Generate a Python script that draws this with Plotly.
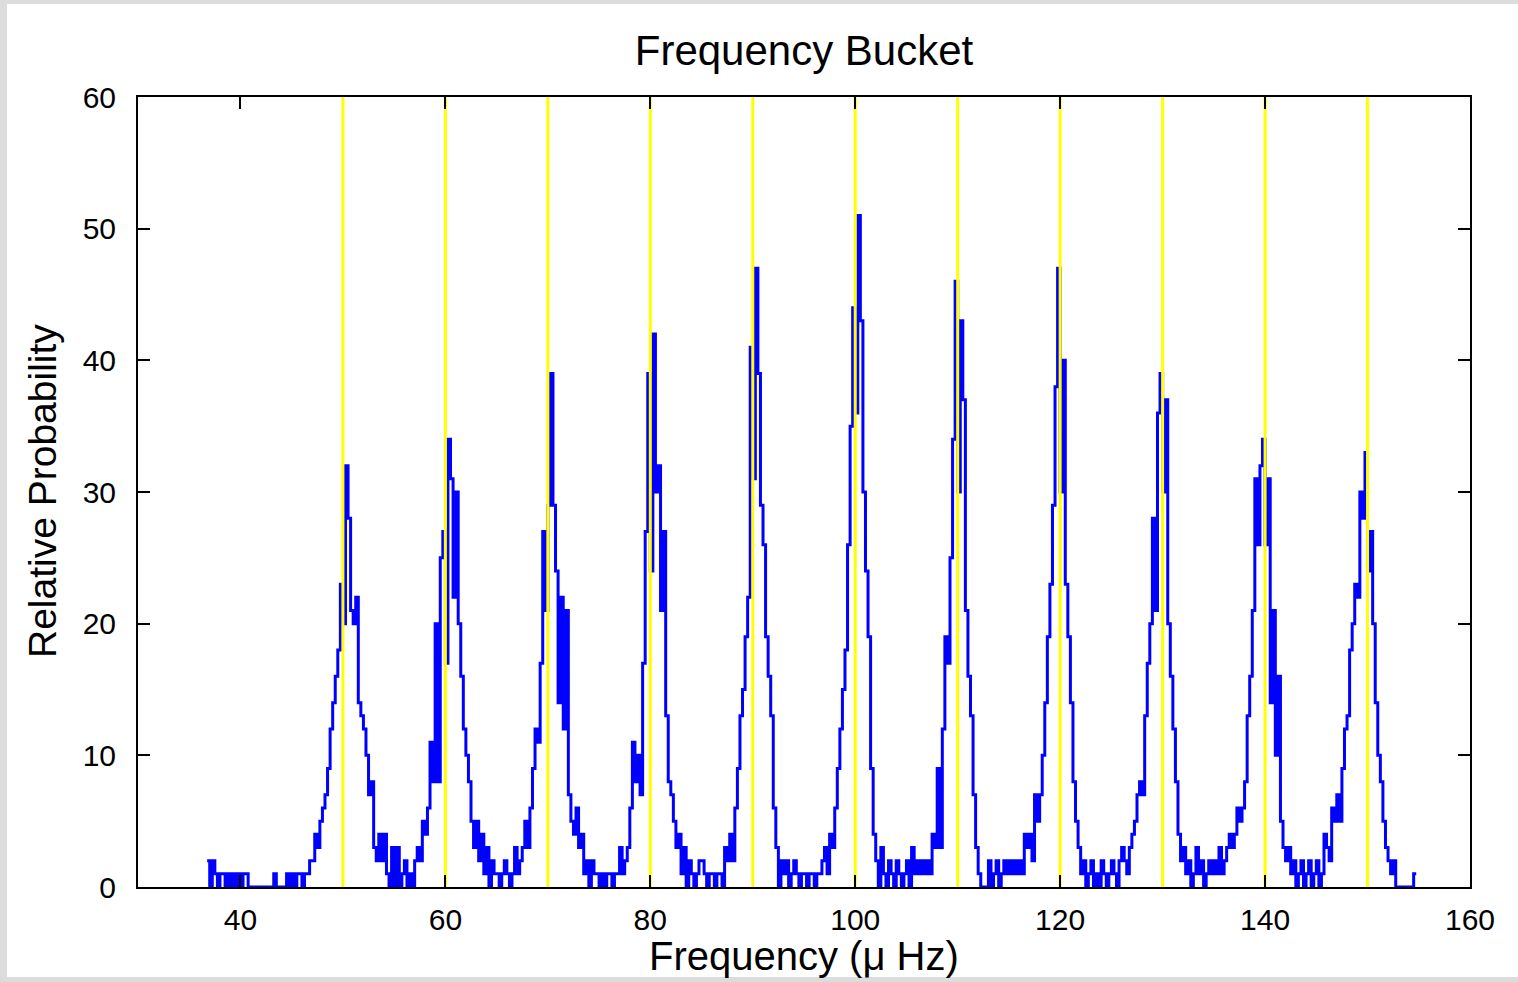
import plotly.graph_objects as go

# ---------------- data ----------------
bin_width = 0.25  # micro-Hz per histogram bin

# start frequency of each block of bins
seg_start = [36.75, 45, 55, 65, 75, 85, 95, 105, 115, 125, 135, 145]

counts_40 = [2, 0, 2, 1, 0, 1, 1, 0, 1, 0, 1, 0, 1, 0, 1, 1, 0, 0, 0, 0,
             0, 0, 0, 0, 0, 0, 1, 0, 0, 0, 0, 1, 0]
counts_50 = [1, 0, 1, 1, 0, 1, 1, 2, 2, 4, 3, 5, 6, 7, 9, 12, 14, 16, 18, 23,
             20, 32, 28, 21, 20, 22, 14, 13, 12, 10, 7, 8, 3, 2, 4, 2, 4, 1, 0, 3]
counts_60 = [0, 3, 0, 1, 2, 0, 1, 0, 2, 3, 2, 5, 4, 6, 11, 8, 20, 8, 25, 27,
             17, 34, 31, 22, 30, 20, 16, 12, 10, 8, 5, 3, 5, 2, 4, 1, 3, 0, 2, 1]
counts_70 = [1, 0, 1, 2, 1, 0, 1, 3, 1, 2, 3, 5, 3, 6, 9, 12, 11, 17, 27, 21,
             29, 39, 29, 24, 14, 22, 12, 21, 7, 5, 4, 6, 3, 4, 1, 2, 0, 2, 1, 1]
counts_80 = [0, 1, 0, 1, 1, 0, 1, 1, 3, 1, 2, 3, 6, 11, 8, 10, 7, 17, 27, 39,
             24, 42, 30, 32, 21, 27, 13, 8, 7, 5, 3, 4, 1, 3, 0, 2, 1, 0, 1, 2]
counts_90 = [2, 1, 0, 1, 1, 0, 1, 1, 0, 3, 2, 4, 2, 6, 9, 13, 15, 19, 22, 41,
             31, 47, 39, 29, 26, 19, 16, 13, 6, 3, 0, 2, 1, 2, 0, 1, 2, 1, 0, 1]
counts_100 = [1, 0, 1, 1, 0, 1, 1, 2, 3, 1, 4, 3, 6, 9, 12, 15, 18, 26, 35, 44,
              36, 51, 43, 30, 24, 19, 9, 4, 2, 0, 3, 1, 0, 2, 1, 0, 2, 1, 0, 1]
counts_110 = [2, 0, 3, 1, 2, 1, 2, 1, 2, 1, 4, 3, 9, 3, 12, 19, 17, 25, 34, 46,
              30, 43, 37, 21, 16, 13, 7, 3, 1, 0, 0, 0, 2, 0, 1, 2, 0, 1, 2, 1]
counts_120 = [2, 1, 2, 1, 2, 1, 4, 3, 4, 2, 7, 5, 7, 10, 14, 19, 23, 29, 38, 47,
              30, 40, 23, 19, 14, 8, 5, 3, 1, 2, 0, 1, 2, 0, 1, 0, 2, 1, 0, 1]
counts_130 = [2, 1, 0, 2, 3, 2, 1, 3, 4, 5, 7, 8, 7, 13, 17, 20, 28, 21, 36, 39,
              30, 37, 20, 16, 12, 8, 4, 2, 3, 1, 2, 0, 1, 3, 1, 2, 0, 1, 2, 1]
counts_140 = [2, 1, 3, 1, 2, 3, 4, 3, 4, 6, 5, 6, 8, 13, 16, 21, 31, 26, 32, 34,
              26, 31, 14, 21, 10, 16, 5, 3, 2, 3, 1, 2, 0, 1, 2, 0, 1, 2, 0, 1]
counts_150 = [2, 0, 1, 4, 3, 2, 6, 5, 7, 5, 9, 12, 13, 18, 20, 23, 22, 30, 28, 33,
              24, 27, 20, 14, 10, 8, 5, 3, 2, 1, 2, 0, 0, 0, 0, 0, 0, 0, 1, 1]

segments = [counts_40, counts_50, counts_60, counts_70, counts_80, counts_90,
            counts_100, counts_110, counts_120, counts_130, counts_140, counts_150]

bucket_freqs = [50, 60, 70, 80, 90, 100, 110, 120, 130, 140, 150]
x_tick_vals = [40, 60, 80, 100, 120, 140, 160]
y_tick_vals = [0, 10, 20, 30, 40, 50, 60]

# ---------------- build series ----------------
freq = []
prob = []
for start, seg in zip(seg_start, segments):
    for k, v in enumerate(seg):
        freq.append(start + k * bin_width)
        prob.append(v)

bx, by = [], []
for f in bucket_freqs:
    bx += [f, f, None]
    by += [0, 60, None]

W, H = 1518, 982
L, R, T, B = 138, 48, 97, 95
pw, ph = W - L - R, H - T - B

def px_x(p):
    return (p - L) / pw

def px_y(p):
    return (H - B - p) / ph

FONT = "Liberation Sans, Arial, sans-serif"

fig = go.Figure()
fig.add_trace(go.Scatter(x=freq, y=prob, mode="lines", line_shape="hv",
                         line=dict(color="#0000ff", width=3),
                         showlegend=False, hoverinfo="skip"))
fig.add_trace(go.Scatter(x=bx, y=by, mode="lines",
                         line=dict(color="#ffff00", width=3),
                         showlegend=False, hoverinfo="skip"))

axis_common = dict(showline=True, linecolor="black", linewidth=2,
                   mirror="ticks", ticks="inside", ticklen=12, tickwidth=1.5,
                   tickcolor="black", showgrid=False, zeroline=False,
                   tickfont=dict(family=FONT, size=30, color="black"))

fig.update_xaxes(range=[30, 160], tickvals=x_tick_vals, ticklabelstandoff=5,
                 **axis_common)
fig.update_yaxes(range=[0, 60], tickvals=y_tick_vals, ticklabelstandoff=14,
                 **axis_common)

fig.update_layout(
    width=W, height=H,
    margin=dict(l=L, r=R, t=T, b=B, autoexpand=False),
    paper_bgcolor="#dcdcdc",
    plot_bgcolor="white",
    title=dict(text="Frequency Bucket", x=0.5, xref="paper", xanchor="center",
               y=1 - 50 / H, yref="container", yanchor="middle",
               font=dict(family=FONT, size=42, color="black")),
    shapes=[dict(type="rect", xref="paper", yref="paper", layer="below",
                 x0=px_x(7), x1=px_x(W), y0=px_y(977), y1=px_y(4),
                 fillcolor="white", line=dict(width=0))],
    annotations=[
        dict(text="Frequency (\u03bc Hz)", xref="paper", yref="paper",
             x=0.5, y=px_y(956), xanchor="center", yanchor="middle",
             showarrow=False, font=dict(family=FONT, size=40, color="black")),
        dict(text="Relative Probability", xref="paper", yref="paper",
             x=px_x(42), y=px_y(491), xanchor="center", yanchor="middle",
             textangle=-90, showarrow=False,
             font=dict(family=FONT, size=39, color="black")),
    ],
)

fig.write_html("out.html")
